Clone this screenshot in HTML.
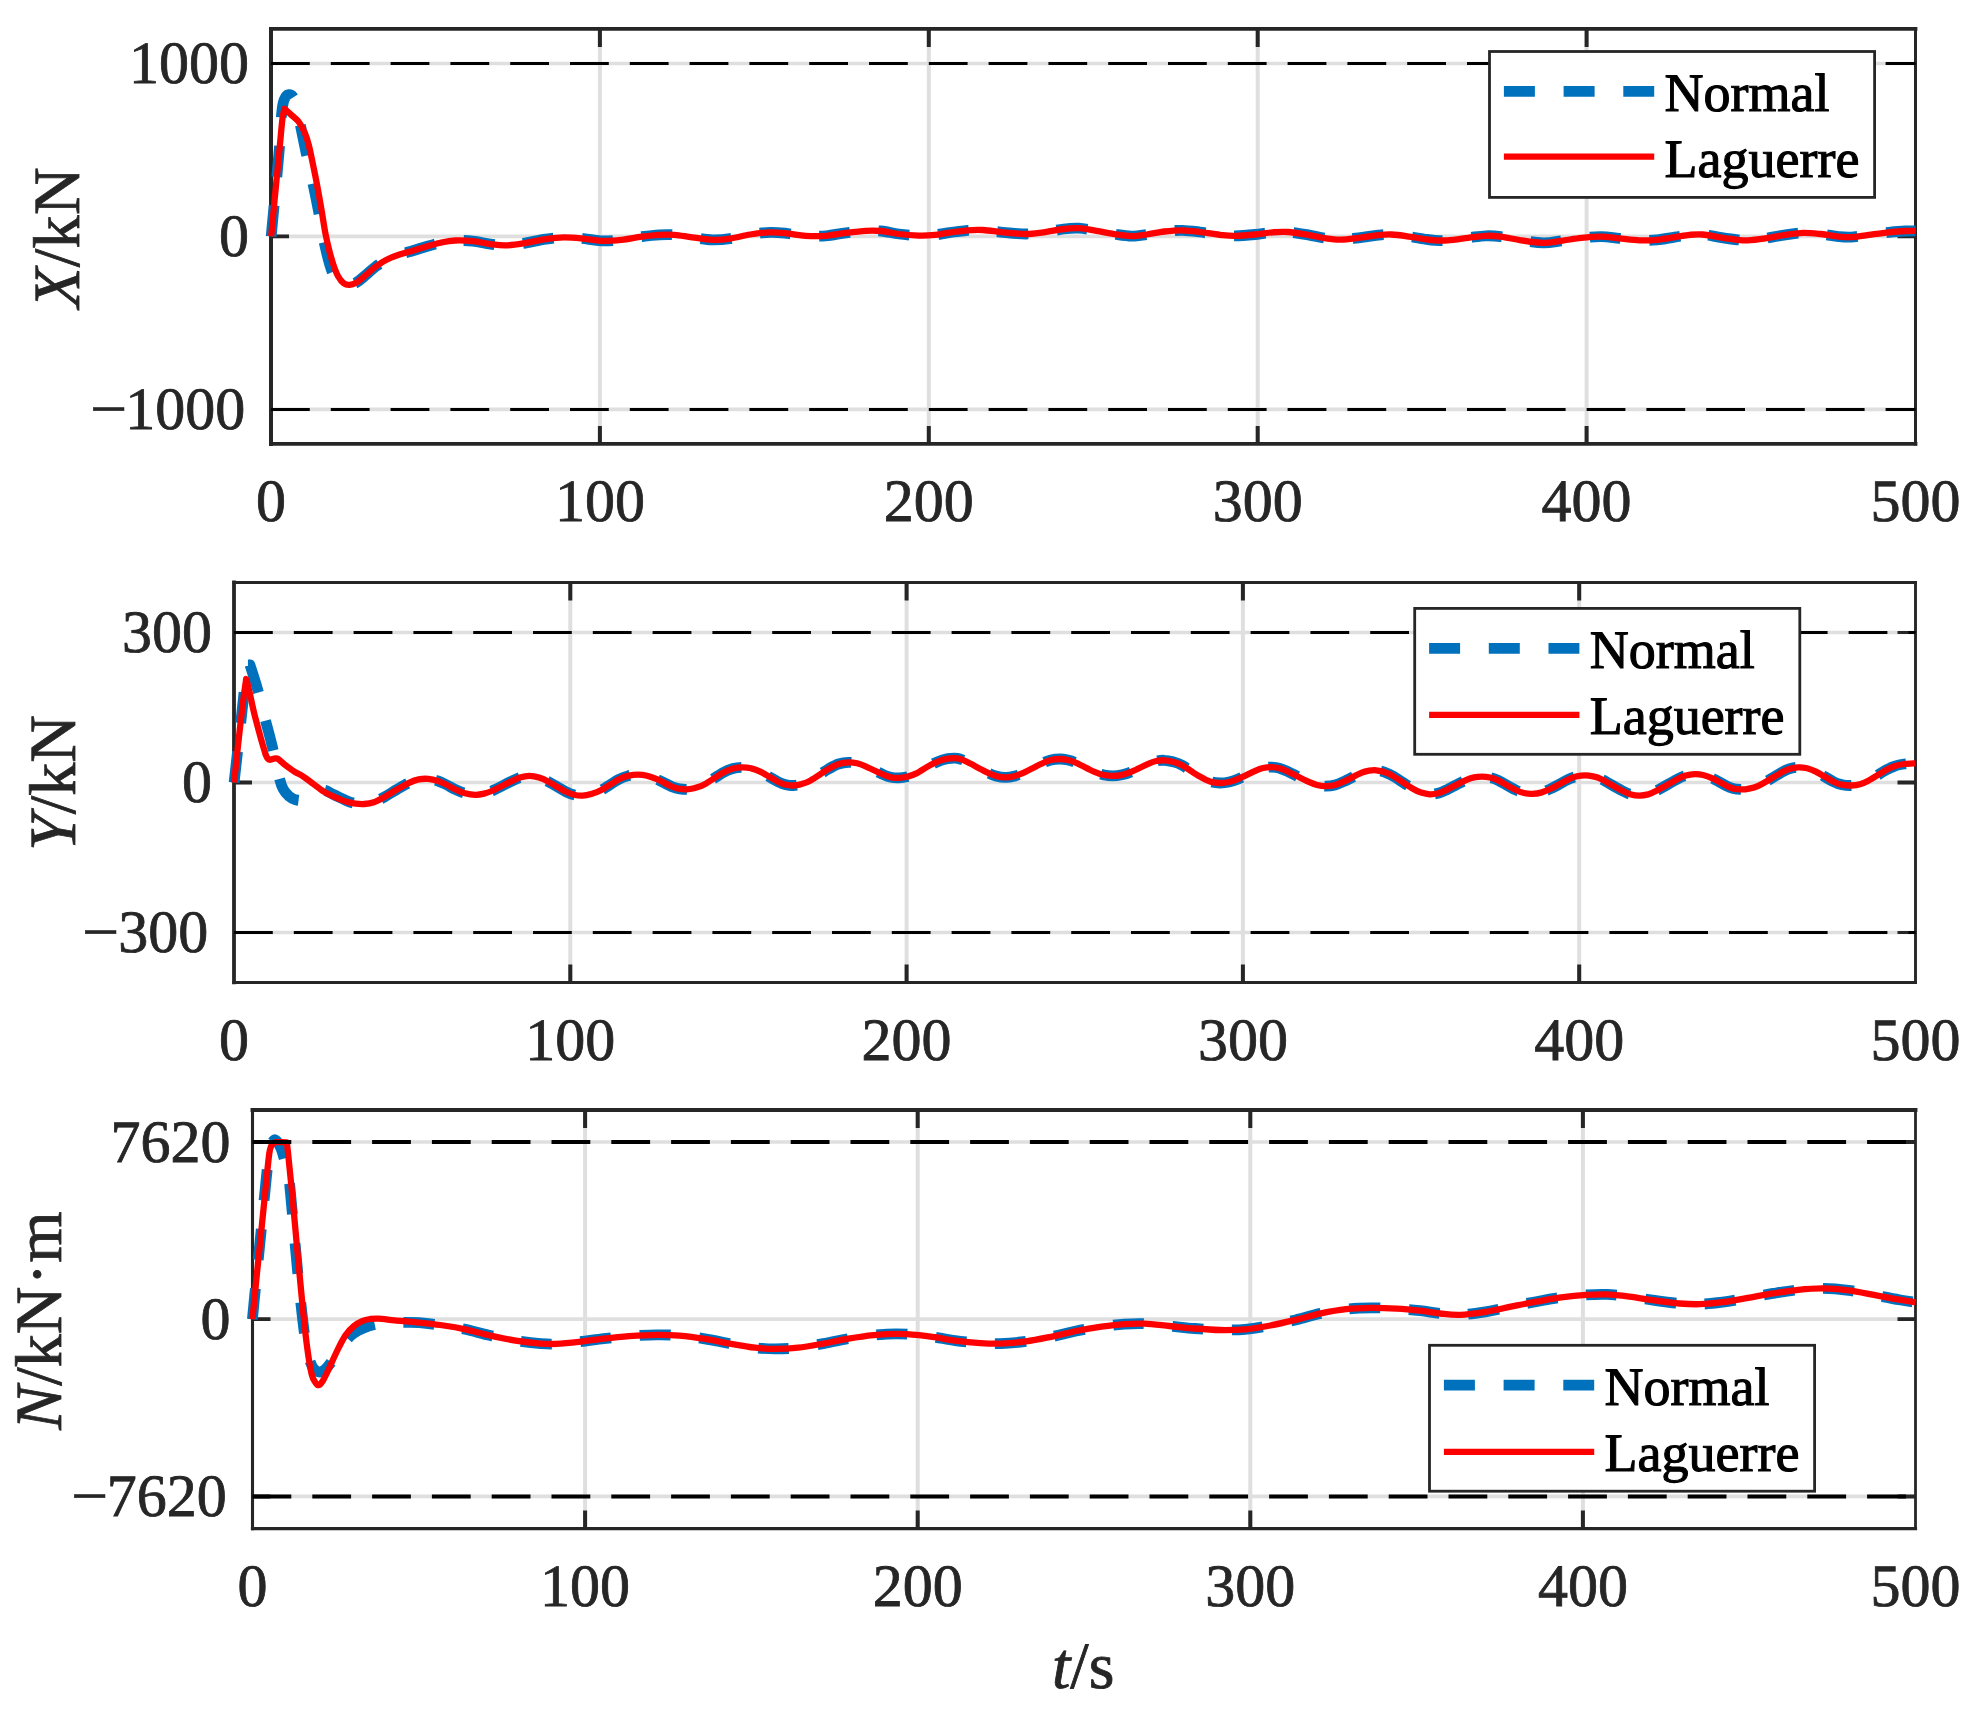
<!DOCTYPE html>
<html lang="en">
<head>
<meta charset="utf-8">
<title>Control forces: Normal vs Laguerre</title>
<style>
html,body{margin:0;padding:0;background:#fff;}
body{width:1983px;height:1720px;overflow:hidden;}
svg{display:block;}
svg text{font-family:"Liberation Serif", "Times New Roman", serif;fill:#262626;stroke:#262626;stroke-width:0.8px;text-rendering:geometricPrecision;}
svg text.lg{fill:#000;stroke:#000;stroke-width:1.1px;}
</style>
</head>
<body>
<svg width="1983" height="1720" viewBox="0 0 1983 1720">
<rect width="1983" height="1720" fill="#fff"/>
<g id="axes1">
<line x1="599.9" y1="28.9" x2="599.9" y2="443.9" stroke="#dfdfdf" stroke-width="4"/>
<line x1="928.8" y1="28.9" x2="928.8" y2="443.9" stroke="#dfdfdf" stroke-width="4"/>
<line x1="1257.7" y1="28.9" x2="1257.7" y2="443.9" stroke="#dfdfdf" stroke-width="4"/>
<line x1="1586.6" y1="28.9" x2="1586.6" y2="443.9" stroke="#dfdfdf" stroke-width="4"/>
<line x1="271" y1="63.5" x2="1915.5" y2="63.5" stroke="#dfdfdf" stroke-width="3.7"/>
<line x1="271" y1="236.4" x2="1915.5" y2="236.4" stroke="#dfdfdf" stroke-width="3.7"/>
<line x1="271" y1="409.4" x2="1915.5" y2="409.4" stroke="#dfdfdf" stroke-width="3.7"/>
<path d="M271 28.9V443.9" stroke="#262626" stroke-width="4" stroke-linecap="square" fill="none"/>
<path d="M1915.5 28.9V443.9" stroke="#262626" stroke-width="3" stroke-linecap="square" fill="none"/>
<path d="M271 28.9H1915.5" stroke="#262626" stroke-width="3.8" stroke-linecap="square" fill="none"/>
<path d="M271 443.9H1915.5" stroke="#262626" stroke-width="3.8" stroke-linecap="square" fill="none"/>
<path d="M599.9 28.9v18 M599.9 443.9v-18" stroke="#262626" stroke-width="4" fill="none"/>
<path d="M928.8 28.9v18 M928.8 443.9v-18" stroke="#262626" stroke-width="4" fill="none"/>
<path d="M1257.7 28.9v18 M1257.7 443.9v-18" stroke="#262626" stroke-width="4" fill="none"/>
<path d="M1586.6 28.9v18 M1586.6 443.9v-18" stroke="#262626" stroke-width="4" fill="none"/>
<path d="M271 63.5h18 M1915.5 63.5h-18" stroke="#262626" stroke-width="3" fill="none"/>
<path d="M271 236.4h18 M1915.5 236.4h-18" stroke="#262626" stroke-width="3.8" fill="none"/>
<path d="M271 409.4h18 M1915.5 409.4h-18" stroke="#262626" stroke-width="3" fill="none"/>
<path d="M271.2 236.4C271.9 229.1 273.9 207.1 275.3 192.6C276.7 178.1 278.3 161.7 279.3 149.3C280.3 136.9 280.7 125.7 281.3 118C281.9 110.3 282.4 106.6 283.2 103C283.9 99.4 284.9 98 285.8 96.6C286.7 95.2 287.7 94.7 288.8 94.6C289.9 94.5 291.1 94.4 292.3 96C293.5 97.6 294.6 99.1 296 104C297.4 108.9 298.7 117 300.5 125.6C302.3 134.2 304.6 145.6 306.7 155.6C308.8 165.6 311.3 175.9 313.4 185.6C315.4 195.2 317.1 203.7 319 213.5C320.9 223.3 322.4 234.4 324.6 244.2C326.8 254 329.7 265.8 332.3 272.1C334.9 278.4 337.5 279.7 340 281.8C342.5 283.9 344.8 284.9 347.5 285C350.2 285.1 353.2 284.3 356.3 282.6C359.4 280.9 362.8 277.6 366 274.9C369.2 272.2 372.5 268.9 375.8 266.5C379.1 264.1 381.7 262.2 385.6 260.2C389.6 258.2 394.9 256.2 399.5 254.6C404.1 253 408.9 251.9 413.5 250.5C418.1 249.1 422.8 247.6 427.4 246.3C432 245 436.8 243.5 441.4 242.5C446 241.5 449.8 240.7 455 240.5C460.2 240.3 466.9 240.5 472.8 241.1C478.7 241.7 484.9 243.4 490.4 244.1C495.9 244.8 500.1 245.5 505.6 245.4C511.1 245.3 516.5 244.5 523.2 243.4C529.9 242.3 539.2 240.1 545.9 239.1C552.6 238.1 557.7 237.4 563.6 237.3C569.5 237.2 574.9 237.7 581.2 238.3C587.5 238.9 594.7 240.6 601.4 240.8C608.1 241.1 614.8 240.5 621.5 239.8C628.2 239.1 635.4 237.4 641.7 236.6C648 235.8 653.9 235.1 659.4 234.8C664.9 234.5 669 234.4 674.5 234.8C680 235.2 685.8 236.5 692.1 237.3C698.4 238.1 706 239.6 712.3 239.8C718.6 240 723.7 239.5 730 238.6C736.3 237.7 743.4 235.6 750.1 234.5C756.8 233.4 764 232.5 770.3 232.3C776.6 232.1 782.1 232.9 788 233.5C793.9 234.1 799.3 235.4 805.6 235.8C811.9 236.2 819.1 236.3 825.8 235.8C832.5 235.3 839.3 233.6 846 232.8C852.7 232 860.2 231.1 866.1 230.8C872 230.5 875.7 230.5 881.2 231C886.7 231.5 892.6 233.2 898.9 234C905.2 234.8 913 235.4 919 235.6C925 235.8 930.2 235.4 935 234.9C939.8 234.4 942.1 233.6 947.6 232.8C953.1 232 961.9 230.8 967.8 230.3C973.7 229.8 977.1 229.7 983 230C988.9 230.3 995.9 231.6 1003 232.3C1010.1 233 1019 234 1025.8 234C1032.5 234 1037.2 233.1 1043.5 232.3C1049.8 231.5 1057.7 229.7 1063.6 229C1069.5 228.3 1073.3 227.9 1078.8 228.2C1084.3 228.5 1090.1 229.8 1096.4 230.8C1102.7 231.9 1110.7 233.6 1116.6 234.5C1122.5 235.4 1126.7 236.1 1131.7 236.1C1136.7 236.1 1141.3 235.3 1146.8 234.5C1152.3 233.7 1158.6 232.2 1164.5 231.5C1170.4 230.8 1176.2 230.2 1182.1 230.3C1188 230.4 1193.5 231.2 1199.8 232C1206.1 232.8 1214.1 234.2 1220 234.8C1225.9 235.4 1229.1 235.9 1235 235.8C1240.9 235.8 1249 235.1 1255.3 234.5C1261.6 233.9 1267.5 232.7 1272.9 232.3C1278.4 231.9 1282.1 231.6 1288 232C1293.9 232.4 1301.9 233.8 1308.2 234.8C1314.5 235.9 1320.4 237.5 1325.9 238.3C1331.4 239.1 1335.5 239.7 1341 239.6C1346.5 239.5 1352.7 238.5 1358.6 237.8C1364.5 237.1 1370.8 235.9 1376.3 235.3C1381.8 234.8 1385.9 234.3 1391.4 234.5C1396.9 234.7 1403.7 235.8 1409.1 236.6C1414.5 237.3 1419.7 238.4 1424 239C1428.3 239.6 1431 240.1 1435 240.3C1439 240.5 1442.2 240.7 1447.7 240.3C1453.2 239.9 1461.7 238.6 1468 237.8C1474.3 237.1 1480.1 236 1485.6 235.8C1491 235.6 1494.8 235.8 1500.7 236.6C1506.6 237.3 1513.8 239.2 1520.9 240.3C1528 241.4 1536.8 242.8 1543.5 242.9C1550.2 243 1554.9 241.7 1561.2 240.8C1567.5 240 1574.7 238.5 1581.4 237.8C1588.1 237.1 1595.2 236.5 1601.5 236.6C1607.8 236.7 1612.9 237.7 1619.2 238.3C1625.5 238.9 1633.1 240.1 1639.4 240.3C1645.7 240.6 1651.1 240.3 1657 239.8C1662.9 239.3 1669.2 237.9 1674.7 237.1C1680.2 236.3 1685.2 235.2 1689.8 234.8C1694.4 234.4 1697.4 234.1 1702.4 234.5C1707.4 234.9 1714.1 236.4 1720 237.3C1725.9 238.2 1733.1 239.3 1737.7 239.8C1742.3 240.3 1743.2 240.6 1747.8 240.3C1752.4 240.1 1759.1 239.2 1765.4 238.3C1771.7 237.4 1779.3 235.7 1785.6 234.8C1791.9 233.9 1797.4 232.9 1803.3 232.8C1809.2 232.7 1815 233.4 1820.9 234C1826.8 234.6 1833.5 236.1 1838.6 236.6C1843.6 237.1 1846.2 237.4 1851.2 237.1C1856.2 236.8 1862.5 235.6 1868.8 234.8C1875.1 234 1883 232.9 1889 232.3C1895 231.7 1900.6 231.2 1905 231C1909.4 230.8 1913.8 230.8 1915.5 230.8" fill="none" stroke="#0072bd" stroke-width="10.8" stroke-dasharray="31 28.7" stroke-linejoin="round"/>
<path d="M271.2 236.4C271.9 229.1 273.9 207.1 275.3 192.6C276.7 178.1 278.3 161.4 279.5 149.3C280.7 137.2 281.5 126.8 282.3 120C283.1 113.2 284 110.7 284.4 108.8C285.4 109.7 288.4 112.3 290.7 114.4C293 116.5 296.1 118.4 298.4 121.4C300.7 124.4 303 128.7 304.7 132.6C306.4 136.5 307.4 139.8 308.8 145.1C310.2 150.4 311.6 157.9 313 164.7C314.4 171.4 315.8 178.2 317.2 185.6C318.6 193 320 201.2 321.4 209.3C322.8 217.4 324.2 227.2 325.6 234.4C327 241.6 328.4 247.2 329.8 252.6C331.2 257.9 332.6 262.6 334 266.5C335.4 270.4 336.5 273.5 338.1 276.3C339.7 279.1 341.8 281.9 343.7 283.3C345.6 284.7 347.2 285 349.3 284.9C351.4 284.8 353.5 284.3 356.3 282.6C359.1 280.9 362.8 277.6 366 274.9C369.2 272.2 372.5 268.9 375.8 266.5C379.1 264.1 381.7 262.2 385.6 260.2C389.6 258.2 394.9 256.2 399.5 254.6C404.1 253 408.9 251.9 413.5 250.5C418.1 249.1 422.8 247.6 427.4 246.3C432 245 436.8 243.5 441.4 242.5C446 241.5 449.8 240.7 455 240.5C460.2 240.3 466.9 240.5 472.8 241.1C478.7 241.7 484.9 243.4 490.4 244.1C495.9 244.8 500.1 245.5 505.6 245.4C511.1 245.3 516.5 244.5 523.2 243.4C529.9 242.3 539.2 240.1 545.9 239.1C552.6 238.1 557.7 237.4 563.6 237.3C569.5 237.2 574.9 237.7 581.2 238.3C587.5 238.9 594.7 240.6 601.4 240.8C608.1 241.1 614.8 240.5 621.5 239.8C628.2 239.1 635.4 237.4 641.7 236.6C648 235.8 653.9 235.1 659.4 234.8C664.9 234.5 669 234.4 674.5 234.8C680 235.2 685.8 236.5 692.1 237.3C698.4 238.1 706 239.6 712.3 239.8C718.6 240 723.7 239.5 730 238.6C736.3 237.7 743.4 235.6 750.1 234.5C756.8 233.4 764 232.5 770.3 232.3C776.6 232.1 782.1 232.9 788 233.5C793.9 234.1 799.3 235.4 805.6 235.8C811.9 236.2 819.1 236.3 825.8 235.8C832.5 235.3 839.3 233.6 846 232.8C852.7 232 860.2 231.1 866.1 230.8C872 230.5 875.7 230.5 881.2 231C886.7 231.5 892.6 233.2 898.9 234C905.2 234.8 913 235.4 919 235.6C925 235.8 930.2 235.4 935 234.9C939.8 234.4 942.1 233.6 947.6 232.8C953.1 232 961.9 230.8 967.8 230.3C973.7 229.8 977.1 229.7 983 230C988.9 230.3 995.9 231.6 1003 232.3C1010.1 233 1019 234 1025.8 234C1032.5 234 1037.2 233.1 1043.5 232.3C1049.8 231.5 1057.7 229.7 1063.6 229C1069.5 228.3 1073.3 227.9 1078.8 228.2C1084.3 228.5 1090.1 229.8 1096.4 230.8C1102.7 231.9 1110.7 233.6 1116.6 234.5C1122.5 235.4 1126.7 236.1 1131.7 236.1C1136.7 236.1 1141.3 235.3 1146.8 234.5C1152.3 233.7 1158.6 232.2 1164.5 231.5C1170.4 230.8 1176.2 230.2 1182.1 230.3C1188 230.4 1193.5 231.2 1199.8 232C1206.1 232.8 1214.1 234.2 1220 234.8C1225.9 235.4 1229.1 235.9 1235 235.8C1240.9 235.8 1249 235.1 1255.3 234.5C1261.6 233.9 1267.5 232.7 1272.9 232.3C1278.4 231.9 1282.1 231.6 1288 232C1293.9 232.4 1301.9 233.8 1308.2 234.8C1314.5 235.9 1320.4 237.5 1325.9 238.3C1331.4 239.1 1335.5 239.7 1341 239.6C1346.5 239.5 1352.7 238.5 1358.6 237.8C1364.5 237.1 1370.8 235.9 1376.3 235.3C1381.8 234.8 1385.9 234.3 1391.4 234.5C1396.9 234.7 1403.7 235.8 1409.1 236.6C1414.5 237.3 1419.7 238.4 1424 239C1428.3 239.6 1431 240.1 1435 240.3C1439 240.5 1442.2 240.7 1447.7 240.3C1453.2 239.9 1461.7 238.6 1468 237.8C1474.3 237.1 1480.1 236 1485.6 235.8C1491 235.6 1494.8 235.8 1500.7 236.6C1506.6 237.3 1513.8 239.2 1520.9 240.3C1528 241.4 1536.8 242.8 1543.5 242.9C1550.2 243 1554.9 241.7 1561.2 240.8C1567.5 240 1574.7 238.5 1581.4 237.8C1588.1 237.1 1595.2 236.5 1601.5 236.6C1607.8 236.7 1612.9 237.7 1619.2 238.3C1625.5 238.9 1633.1 240.1 1639.4 240.3C1645.7 240.6 1651.1 240.3 1657 239.8C1662.9 239.3 1669.2 237.9 1674.7 237.1C1680.2 236.3 1685.2 235.2 1689.8 234.8C1694.4 234.4 1697.4 234.1 1702.4 234.5C1707.4 234.9 1714.1 236.4 1720 237.3C1725.9 238.2 1733.1 239.3 1737.7 239.8C1742.3 240.3 1743.2 240.6 1747.8 240.3C1752.4 240.1 1759.1 239.2 1765.4 238.3C1771.7 237.4 1779.3 235.7 1785.6 234.8C1791.9 233.9 1797.4 232.9 1803.3 232.8C1809.2 232.7 1815 233.4 1820.9 234C1826.8 234.6 1833.5 236.1 1838.6 236.6C1843.6 237.1 1846.2 237.4 1851.2 237.1C1856.2 236.8 1862.5 235.6 1868.8 234.8C1875.1 234 1883 232.9 1889 232.3C1895 231.7 1900.6 231.2 1905 231C1909.4 230.8 1913.8 230.8 1915.5 230.8" fill="none" stroke="#ff0000" stroke-width="6.3" stroke-linejoin="round"/>
<line x1="271" y1="63.5" x2="1915.5" y2="63.5" stroke="#000" stroke-width="3" stroke-dasharray="38.8 21"/>
<line x1="271" y1="409.4" x2="1915.5" y2="409.4" stroke="#000" stroke-width="3" stroke-dasharray="38.8 21"/>
<text x="271" y="521.2" text-anchor="middle" font-size="60">0</text>
<text x="599.9" y="521.2" text-anchor="middle" font-size="60">100</text>
<text x="928.8" y="521.2" text-anchor="middle" font-size="60">200</text>
<text x="1257.7" y="521.2" text-anchor="middle" font-size="60">300</text>
<text x="1586.6" y="521.2" text-anchor="middle" font-size="60">400</text>
<text x="1915.5" y="521.2" text-anchor="middle" font-size="60">500</text>
<text x="248.9" y="83.4" text-anchor="end" font-size="60">1000</text>
<text x="248.9" y="256.3" text-anchor="end" font-size="60">0</text>
<text x="245.2" y="429.3" text-anchor="end" font-size="60"><tspan x="90" y="431.1" text-anchor="start" font-size="66" style="stroke-width:0.5px">−</tspan><tspan x="245.2" y="429.3">1000</tspan></text>
<text transform="translate(79 237.4) rotate(-90)" text-anchor="middle" font-size="66" letter-spacing="0.5"><tspan font-style="italic">X</tspan>/kN</text>
<rect x="1489.5" y="51.5" width="385.1" height="145.9" fill="#fff" stroke="#262626" stroke-width="2.8"/>
<line x1="1503.9" y1="91.4" x2="1654.2" y2="91.4" stroke="#0072bd" stroke-width="10.8" stroke-dasharray="31 28.7"/>
<line x1="1503.9" y1="156.7" x2="1654.2" y2="156.7" stroke="#ff0000" stroke-width="6.2"/>
<text x="1664.5" y="111.4" font-size="54" class="lg">Normal</text>
<text x="1664.5" y="177.3" font-size="54" class="lg">Laguerre</text>
</g>
<g id="axes2">
<line x1="570.3" y1="582.4" x2="570.3" y2="982.4" stroke="#dfdfdf" stroke-width="4"/>
<line x1="906.6" y1="582.4" x2="906.6" y2="982.4" stroke="#dfdfdf" stroke-width="4"/>
<line x1="1242.9" y1="582.4" x2="1242.9" y2="982.4" stroke="#dfdfdf" stroke-width="4"/>
<line x1="1579.2" y1="582.4" x2="1579.2" y2="982.4" stroke="#dfdfdf" stroke-width="4"/>
<line x1="234" y1="632.5" x2="1915.5" y2="632.5" stroke="#dfdfdf" stroke-width="3.7"/>
<line x1="234" y1="782.5" x2="1915.5" y2="782.5" stroke="#dfdfdf" stroke-width="3.7"/>
<line x1="234" y1="932.5" x2="1915.5" y2="932.5" stroke="#dfdfdf" stroke-width="3.7"/>
<path d="M234 582.4V982.4" stroke="#262626" stroke-width="3.8" stroke-linecap="square" fill="none"/>
<path d="M1915.5 582.4V982.4" stroke="#262626" stroke-width="2.9" stroke-linecap="square" fill="none"/>
<path d="M234 582.4H1915.5" stroke="#262626" stroke-width="3" stroke-linecap="square" fill="none"/>
<path d="M234 982.4H1915.5" stroke="#262626" stroke-width="3" stroke-linecap="square" fill="none"/>
<path d="M570.3 582.4v18 M570.3 982.4v-18" stroke="#262626" stroke-width="4" fill="none"/>
<path d="M906.6 582.4v18 M906.6 982.4v-18" stroke="#262626" stroke-width="4" fill="none"/>
<path d="M1242.9 582.4v18 M1242.9 982.4v-18" stroke="#262626" stroke-width="4" fill="none"/>
<path d="M1579.2 582.4v18 M1579.2 982.4v-18" stroke="#262626" stroke-width="4" fill="none"/>
<path d="M234 632.5h18 M1915.5 632.5h-18" stroke="#262626" stroke-width="3" fill="none"/>
<path d="M234 782.5h18 M1915.5 782.5h-18" stroke="#262626" stroke-width="3.8" fill="none"/>
<path d="M234 932.5h18 M1915.5 932.5h-18" stroke="#262626" stroke-width="3" fill="none"/>
<path d="M234.1 782.5C234.8 775.9 237 756.6 238.5 742.9C240 729.2 241.8 713.5 243.2 700.5C244.6 687.5 246.2 670.9 246.8 665C247.3 665 249.5 665 250 665C251.2 668.9 254.8 679.5 257.3 688.4C259.8 697.2 262.4 708.3 264.9 718.1C267.4 727.9 270.1 737.4 272.4 747.1C274.7 756.8 277.1 769.2 278.9 776.2C280.7 783.2 281.4 785.5 283.1 788.9C284.8 792.2 287.1 794.5 289.1 796.3C291.1 798.1 292.9 799 295 799.6C297.1 800.2 299.2 801 302 800.2C304.8 799.4 308.5 796.7 312 795C315.5 793.3 319.3 790 323 790C326.7 790 330.2 793.1 334 794.8C337.8 796.5 342.4 798.9 346 800.4C349.6 801.9 352.7 803 355.7 803.6C358.7 804.2 361.2 804.2 364.2 804C367.2 803.8 370.5 803.4 373.9 802.2C377.3 801 381 798.8 384.8 796.7C388.6 794.6 392.9 791.8 396.9 789.5C400.9 787.2 405.4 784.5 409 782.8C412.6 781.1 415.5 780 418.7 779.4C421.9 778.8 425.1 778.6 428.3 778.9C431.5 779.2 435.1 780.1 438 781C440.9 781.9 443.1 783.1 446 784.5C448.9 785.9 451.9 787.8 455.1 789.3C458.3 790.8 461.6 792.3 465 793.2C468.4 794.1 472.1 794.7 475.3 794.8C478.5 794.9 481.1 794.3 484 793.6C486.9 792.9 488.6 792.5 493 790.5C497.4 788.5 506.1 783.9 510.6 781.7C515.1 779.6 516.9 778.6 520 777.6C523.1 776.6 526.3 775.9 529.5 775.9C532.7 775.9 535.9 776.6 539 777.6C542.1 778.6 543.9 779.3 548.4 781.7C552.9 784.1 561.7 789.6 566.1 791.8C570.5 794 572.3 794.4 575 795C577.7 795.6 579.8 795.8 582.5 795.6C585.2 795.4 587.9 794.9 591 794C594.1 793.1 596.7 792.5 601.4 790C606.1 787.5 614.4 781.6 619 779.2C623.6 776.8 625.9 776.4 629 775.6C632.1 774.8 634.9 774.6 637.9 774.6C640.9 774.6 643.9 775 647 775.8C650.1 776.6 652.6 777.4 656.8 779.2C661 781 668.1 785.1 672 786.7C675.9 788.3 677.5 788.5 680 788.9C682.5 789.3 684.6 789.4 687.1 789.3C689.6 789.1 692 788.9 695 788C698 787.1 700.2 786.7 704.8 784.2C709.4 781.7 717.7 775.5 722.4 772.9C727.1 770.3 729.6 769.4 733 768.5C736.4 767.6 739.6 767.3 742.6 767.3C745.6 767.3 748.1 767.6 751 768.3C753.9 769 755.7 769.4 760.2 771.6C764.7 773.8 773.6 779.5 777.9 781.7C782.2 783.9 783.5 784.2 786 784.8C788.5 785.4 790.5 785.6 793 785.5C795.5 785.4 798.1 785.1 801 784.2C803.9 783.4 806.1 782.9 810.6 780.4C815.1 777.9 823.6 771.8 828.3 769.1C832.9 766.4 835.1 765.1 838.5 764C841.9 762.9 845.4 762.4 848.5 762.3C851.6 762.2 854.1 762.6 857 763.3C859.9 764 861.6 764.7 866.1 766.6C870.6 768.5 879.6 773.1 883.8 774.9C887.9 776.7 888.5 776.8 891 777.3C893.5 777.8 896.2 778 898.9 777.9C901.6 777.8 904.1 777.5 907 776.8C909.9 776 912.7 775.3 916.5 773.4C920.3 771.5 925.6 767.6 930 765.3C934.4 763 938.6 761 942.6 759.8C946.6 758.6 950.9 758.3 954 758.2C957.1 758.1 958.7 758.6 961 759.3C963.3 760 963.7 760.2 967.8 762.3C971.9 764.3 980.8 769.3 985.5 771.6C990.2 773.9 992.6 775 996 776C999.4 777 1002.6 777.4 1005.6 777.4C1008.6 777.4 1011 777 1014 776.2C1017 775.5 1018.8 774.9 1023.3 772.9C1027.8 770.9 1036.5 766.1 1040.9 764C1045.4 761.9 1046.8 761 1050 760.2C1053.2 759.4 1056.9 759 1059.9 759C1062.9 759 1065.3 759.4 1068 760C1070.7 760.6 1071.9 760.9 1076.2 762.8C1080.5 764.7 1089.3 769.6 1093.9 771.6C1098.5 773.6 1100.8 774.3 1104 775C1107.2 775.7 1109.8 775.9 1112.8 775.9C1115.8 775.9 1118.8 775.5 1122 774.8C1125.2 774.1 1127.1 773.5 1131.7 771.6C1136.3 769.7 1145.2 765.1 1149.4 763.3C1153.6 761.5 1154.5 761.4 1157 760.9C1159.5 760.4 1161.8 760.1 1164.5 760.3C1167.2 760.4 1170.1 761 1173 761.8C1175.9 762.6 1177.6 762.8 1182.1 765.3C1186.6 767.8 1195.1 773.9 1199.8 776.6C1204.5 779.3 1206.6 780.4 1210 781.5C1213.4 782.6 1216.8 782.9 1220 783C1223.2 783.1 1226.1 782.6 1229 782C1231.9 781.4 1233.2 781.1 1237.6 779.2C1242 777.3 1251.1 772.7 1255.3 770.8C1259.5 768.9 1260.3 768.6 1263 768C1265.7 767.4 1268.9 767 1271.7 767.1C1274.5 767.2 1277.3 767.6 1280 768.4C1282.7 769.1 1283.3 769.4 1288 771.6C1292.7 773.8 1303.4 779.5 1308.2 781.7C1313 783.9 1314 784.2 1317 785C1320 785.8 1322.9 786.2 1325.9 786.2C1328.9 786.2 1332.1 785.8 1335 785C1337.9 784.2 1339.1 783.7 1343.5 781.7C1347.9 779.7 1357 774.7 1361.2 772.9C1365.5 771.1 1366.5 771.1 1369 770.7C1371.5 770.3 1373.6 770 1376.3 770.3C1379 770.6 1382 771.2 1385 772.3C1388 773.3 1389.6 774 1394 776.6C1398.4 779.2 1407.1 785.3 1411.6 788C1416.1 790.7 1417.9 791.6 1421 792.6C1424.1 793.6 1427 794.2 1430 794.3C1433 794.4 1436 793.8 1439 793C1442 792.2 1443.3 791.4 1447.7 789.3C1452.1 787.2 1461 782.4 1465.4 780.4C1469.8 778.4 1471.3 778 1474 777.4C1476.7 776.8 1479.1 776.6 1481.8 776.6C1484.5 776.6 1487.3 776.9 1490 777.5C1492.7 778.1 1493.9 778.3 1498.2 780.4C1502.5 782.5 1511.5 787.9 1515.8 790C1520.1 792.1 1521.3 792.4 1524 793C1526.7 793.6 1529.4 793.9 1532.2 793.8C1535 793.7 1537.8 793.5 1541 792.6C1544.2 791.7 1546.5 790.7 1551.1 788.5C1555.7 786.3 1564.5 781.2 1568.8 779.2C1573.1 777.2 1574.3 776.9 1577 776.3C1579.7 775.7 1582.5 775.4 1585.2 775.4C1587.9 775.4 1590.3 775.7 1593 776.3C1595.7 776.9 1596.7 776.8 1601.5 779.2C1606.3 781.6 1616.8 788 1621.7 790.5C1626.6 793 1628 793.6 1631 794.5C1634 795.4 1636.6 795.6 1639.4 795.6C1642.2 795.6 1645.1 795.2 1648 794.4C1650.9 793.5 1652.1 793 1657 790.5C1661.9 788 1672.4 781.7 1677.2 779.2C1682 776.7 1683.1 776.4 1686 775.5C1688.9 774.6 1692 774.2 1694.8 774.1C1697.6 774 1700 774.3 1703 775C1706 775.7 1708 776.3 1712.5 778.4C1717 780.5 1725.8 785.7 1730.1 787.5C1734.3 789.3 1735.5 788.9 1738 789.2C1740.5 789.5 1742.6 789.6 1745.3 789.3C1748 789 1751.1 788.6 1754 787.6C1756.9 786.6 1758.5 786 1762.9 783.5C1767.3 781 1776.2 775.3 1780.6 772.9C1784.9 770.5 1786.1 769.8 1789 768.9C1791.9 768 1795.2 767.4 1798.2 767.3C1801.2 767.2 1804 767.5 1807 768.2C1810 768.9 1811.5 769.4 1815.9 771.6C1820.3 773.9 1829.2 779.5 1833.5 781.7C1837.8 783.9 1839 784.1 1842 784.7C1845 785.3 1848.2 785.6 1851.2 785.5C1854.2 785.4 1857.1 785.1 1860 784.2C1862.9 783.4 1864.4 782.8 1868.8 780.4C1873.2 778 1882.1 772.2 1886.5 769.8C1890.9 767.4 1892.1 767 1895 766C1897.9 765 1900.7 764.5 1904.1 764C1907.5 763.5 1913.6 763.4 1915.5 763.3" fill="none" stroke="#0072bd" stroke-width="10.8" stroke-dasharray="31 28.7" stroke-linejoin="round"/>
<path d="M234.1 782.5C234.8 775.9 236.8 756.6 238.3 742.9C239.8 729.2 241.9 711.1 243.2 700.5C244.5 689.9 245.7 682.6 246.2 679C246.7 681 247.9 685.2 249.2 690.8C250.5 696.4 252.2 705.1 254 712.6C255.8 720.1 258.2 728.6 260.1 735.6C262 742.6 264.7 751.4 265.6 754.5C265.9 755.1 266.8 757.4 267.5 758.3C268.2 759.2 268.2 759.8 269.8 759.8C271.4 759.8 274.4 757.7 277 758.6C279.6 759.5 282.7 763.2 285.5 765.3C288.3 767.4 291 769.4 294 771.3C297 773.2 300.5 774.7 303.7 776.8C306.9 778.9 310 781.5 313.4 784C316.8 786.5 320.8 789.8 324.2 791.9C327.6 794 330.3 795.1 333.9 796.7C337.5 798.3 342.4 800.5 346 801.6C349.6 802.8 352.7 803.2 355.7 803.6C358.7 804 361.2 804.2 364.2 804C367.2 803.8 370.5 803.4 373.9 802.2C377.3 801 381 798.8 384.8 796.7C388.6 794.6 392.9 791.8 396.9 789.5C400.9 787.2 405.4 784.5 409 782.8C412.6 781.1 415.5 780 418.7 779.4C421.9 778.8 425.1 778.6 428.3 778.9C431.5 779.2 435.1 780.1 438 781C440.9 781.9 443.1 783.1 446 784.5C448.9 785.9 451.9 787.8 455.1 789.3C458.3 790.8 461.6 792.3 465 793.2C468.4 794.1 472.1 794.7 475.3 794.8C478.5 794.9 481.1 794.3 484 793.6C486.9 792.9 488.6 792.5 493 790.5C497.4 788.5 506.1 783.9 510.6 781.7C515.1 779.6 516.9 778.6 520 777.6C523.1 776.6 526.3 775.9 529.5 775.9C532.7 775.9 535.9 776.6 539 777.6C542.1 778.6 543.9 779.3 548.4 781.7C552.9 784.1 561.7 789.6 566.1 791.8C570.5 794 572.3 794.4 575 795C577.7 795.6 579.8 795.8 582.5 795.6C585.2 795.4 587.9 794.9 591 794C594.1 793.1 596.7 792.5 601.4 790C606.1 787.5 614.4 781.6 619 779.2C623.6 776.8 625.9 776.4 629 775.6C632.1 774.8 634.9 774.6 637.9 774.6C640.9 774.6 643.9 775 647 775.8C650.1 776.6 652.6 777.4 656.8 779.2C661 781 668.1 785.1 672 786.7C675.9 788.3 677.5 788.5 680 788.9C682.5 789.3 684.6 789.4 687.1 789.3C689.6 789.1 692 788.9 695 788C698 787.1 700.2 786.7 704.8 784.2C709.4 781.7 717.7 775.5 722.4 772.9C727.1 770.3 729.6 769.4 733 768.5C736.4 767.6 739.6 767.3 742.6 767.3C745.6 767.3 748.1 767.6 751 768.3C753.9 769 755.7 769.4 760.2 771.6C764.7 773.8 773.6 779.5 777.9 781.7C782.2 783.9 783.5 784.2 786 784.8C788.5 785.4 790.5 785.6 793 785.5C795.5 785.4 798.1 785.1 801 784.2C803.9 783.4 806.1 782.9 810.6 780.4C815.1 777.9 823.6 771.8 828.3 769.1C832.9 766.4 835.1 765.1 838.5 764C841.9 762.9 845.4 762.4 848.5 762.3C851.6 762.2 854.1 762.6 857 763.3C859.9 764 861.6 764.7 866.1 766.6C870.6 768.5 879.6 773.1 883.8 774.9C887.9 776.7 888.5 776.8 891 777.3C893.5 777.8 896.2 778 898.9 777.9C901.6 777.8 904.1 777.5 907 776.8C909.9 776 912.7 775.3 916.5 773.4C920.3 771.5 925.6 767.6 930 765.3C934.4 763 938.6 761 942.6 759.8C946.6 758.6 950.9 758.3 954 758.2C957.1 758.1 958.7 758.6 961 759.3C963.3 760 963.7 760.2 967.8 762.3C971.9 764.3 980.8 769.3 985.5 771.6C990.2 773.9 992.6 775 996 776C999.4 777 1002.6 777.4 1005.6 777.4C1008.6 777.4 1011 777 1014 776.2C1017 775.5 1018.8 774.9 1023.3 772.9C1027.8 770.9 1036.5 766.1 1040.9 764C1045.4 761.9 1046.8 761 1050 760.2C1053.2 759.4 1056.9 759 1059.9 759C1062.9 759 1065.3 759.4 1068 760C1070.7 760.6 1071.9 760.9 1076.2 762.8C1080.5 764.7 1089.3 769.6 1093.9 771.6C1098.5 773.6 1100.8 774.3 1104 775C1107.2 775.7 1109.8 775.9 1112.8 775.9C1115.8 775.9 1118.8 775.5 1122 774.8C1125.2 774.1 1127.1 773.5 1131.7 771.6C1136.3 769.7 1145.2 765.1 1149.4 763.3C1153.6 761.5 1154.5 761.4 1157 760.9C1159.5 760.4 1161.8 760.1 1164.5 760.3C1167.2 760.4 1170.1 761 1173 761.8C1175.9 762.6 1177.6 762.8 1182.1 765.3C1186.6 767.8 1195.1 773.9 1199.8 776.6C1204.5 779.3 1206.6 780.4 1210 781.5C1213.4 782.6 1216.8 782.9 1220 783C1223.2 783.1 1226.1 782.6 1229 782C1231.9 781.4 1233.2 781.1 1237.6 779.2C1242 777.3 1251.1 772.7 1255.3 770.8C1259.5 768.9 1260.3 768.6 1263 768C1265.7 767.4 1268.9 767 1271.7 767.1C1274.5 767.2 1277.3 767.6 1280 768.4C1282.7 769.1 1283.3 769.4 1288 771.6C1292.7 773.8 1303.4 779.5 1308.2 781.7C1313 783.9 1314 784.2 1317 785C1320 785.8 1322.9 786.2 1325.9 786.2C1328.9 786.2 1332.1 785.8 1335 785C1337.9 784.2 1339.1 783.7 1343.5 781.7C1347.9 779.7 1357 774.7 1361.2 772.9C1365.5 771.1 1366.5 771.1 1369 770.7C1371.5 770.3 1373.6 770 1376.3 770.3C1379 770.6 1382 771.2 1385 772.3C1388 773.3 1389.6 774 1394 776.6C1398.4 779.2 1407.1 785.3 1411.6 788C1416.1 790.7 1417.9 791.6 1421 792.6C1424.1 793.6 1427 794.2 1430 794.3C1433 794.4 1436 793.8 1439 793C1442 792.2 1443.3 791.4 1447.7 789.3C1452.1 787.2 1461 782.4 1465.4 780.4C1469.8 778.4 1471.3 778 1474 777.4C1476.7 776.8 1479.1 776.6 1481.8 776.6C1484.5 776.6 1487.3 776.9 1490 777.5C1492.7 778.1 1493.9 778.3 1498.2 780.4C1502.5 782.5 1511.5 787.9 1515.8 790C1520.1 792.1 1521.3 792.4 1524 793C1526.7 793.6 1529.4 793.9 1532.2 793.8C1535 793.7 1537.8 793.5 1541 792.6C1544.2 791.7 1546.5 790.7 1551.1 788.5C1555.7 786.3 1564.5 781.2 1568.8 779.2C1573.1 777.2 1574.3 776.9 1577 776.3C1579.7 775.7 1582.5 775.4 1585.2 775.4C1587.9 775.4 1590.3 775.7 1593 776.3C1595.7 776.9 1596.7 776.8 1601.5 779.2C1606.3 781.6 1616.8 788 1621.7 790.5C1626.6 793 1628 793.6 1631 794.5C1634 795.4 1636.6 795.6 1639.4 795.6C1642.2 795.6 1645.1 795.2 1648 794.4C1650.9 793.5 1652.1 793 1657 790.5C1661.9 788 1672.4 781.7 1677.2 779.2C1682 776.7 1683.1 776.4 1686 775.5C1688.9 774.6 1692 774.2 1694.8 774.1C1697.6 774 1700 774.3 1703 775C1706 775.7 1708 776.3 1712.5 778.4C1717 780.5 1725.8 785.7 1730.1 787.5C1734.3 789.3 1735.5 788.9 1738 789.2C1740.5 789.5 1742.6 789.6 1745.3 789.3C1748 789 1751.1 788.6 1754 787.6C1756.9 786.6 1758.5 786 1762.9 783.5C1767.3 781 1776.2 775.3 1780.6 772.9C1784.9 770.5 1786.1 769.8 1789 768.9C1791.9 768 1795.2 767.4 1798.2 767.3C1801.2 767.2 1804 767.5 1807 768.2C1810 768.9 1811.5 769.4 1815.9 771.6C1820.3 773.9 1829.2 779.5 1833.5 781.7C1837.8 783.9 1839 784.1 1842 784.7C1845 785.3 1848.2 785.6 1851.2 785.5C1854.2 785.4 1857.1 785.1 1860 784.2C1862.9 783.4 1864.4 782.8 1868.8 780.4C1873.2 778 1882.1 772.2 1886.5 769.8C1890.9 767.4 1892.1 767 1895 766C1897.9 765 1900.7 764.5 1904.1 764C1907.5 763.5 1913.6 763.4 1915.5 763.3" fill="none" stroke="#ff0000" stroke-width="6.3" stroke-linejoin="round"/>
<line x1="234" y1="632.5" x2="1915.5" y2="632.5" stroke="#000" stroke-width="3" stroke-dasharray="38.8 21"/>
<line x1="234" y1="932.5" x2="1915.5" y2="932.5" stroke="#000" stroke-width="3" stroke-dasharray="38.8 21"/>
<text x="234" y="1059.7" text-anchor="middle" font-size="60">0</text>
<text x="570.3" y="1059.7" text-anchor="middle" font-size="60">100</text>
<text x="906.6" y="1059.7" text-anchor="middle" font-size="60">200</text>
<text x="1242.9" y="1059.7" text-anchor="middle" font-size="60">300</text>
<text x="1579.2" y="1059.7" text-anchor="middle" font-size="60">400</text>
<text x="1915.5" y="1059.7" text-anchor="middle" font-size="60">500</text>
<text x="211.9" y="652.4" text-anchor="end" font-size="60">300</text>
<text x="211.9" y="802.4" text-anchor="end" font-size="60">0</text>
<text x="208.2" y="952.4" text-anchor="end" font-size="60"><tspan x="82.1" y="954.2" text-anchor="start" font-size="66" style="stroke-width:0.5px">−</tspan><tspan x="208.2" y="952.4">300</tspan></text>
<text transform="translate(75.3 783) rotate(-90)" text-anchor="middle" font-size="66"><tspan font-style="italic">Y</tspan>/kN</text>
<rect x="1414.7" y="608.4" width="385.1" height="145.9" fill="#fff" stroke="#262626" stroke-width="2.8"/>
<line x1="1429.1" y1="648.3" x2="1579.4" y2="648.3" stroke="#0072bd" stroke-width="10.8" stroke-dasharray="31 28.7"/>
<line x1="1429.1" y1="714.9" x2="1579.4" y2="714.9" stroke="#ff0000" stroke-width="6.2"/>
<text x="1589.7" y="668.3" font-size="54" class="lg">Normal</text>
<text x="1589.7" y="734.2" font-size="54" class="lg">Laguerre</text>
</g>
<g id="axes3">
<line x1="585.1" y1="1110" x2="585.1" y2="1528.6" stroke="#dfdfdf" stroke-width="4"/>
<line x1="917.7" y1="1110" x2="917.7" y2="1528.6" stroke="#dfdfdf" stroke-width="4"/>
<line x1="1250.3" y1="1110" x2="1250.3" y2="1528.6" stroke="#dfdfdf" stroke-width="4"/>
<line x1="1582.9" y1="1110" x2="1582.9" y2="1528.6" stroke="#dfdfdf" stroke-width="4"/>
<line x1="252.5" y1="1142" x2="1915.5" y2="1142" stroke="#dfdfdf" stroke-width="3.7"/>
<line x1="252.5" y1="1319.2" x2="1915.5" y2="1319.2" stroke="#dfdfdf" stroke-width="3.7"/>
<line x1="252.5" y1="1496.4" x2="1915.5" y2="1496.4" stroke="#dfdfdf" stroke-width="3.7"/>
<path d="M252.5 1110V1528.6" stroke="#262626" stroke-width="3.1" stroke-linecap="square" fill="none"/>
<path d="M1915.5 1110V1528.6" stroke="#262626" stroke-width="2.8" stroke-linecap="square" fill="none"/>
<path d="M252.5 1110H1915.5" stroke="#262626" stroke-width="3.9" stroke-linecap="square" fill="none"/>
<path d="M252.5 1528.6H1915.5" stroke="#262626" stroke-width="3.2" stroke-linecap="square" fill="none"/>
<path d="M585.1 1110v18 M585.1 1528.6v-18" stroke="#262626" stroke-width="4" fill="none"/>
<path d="M917.7 1110v18 M917.7 1528.6v-18" stroke="#262626" stroke-width="4" fill="none"/>
<path d="M1250.3 1110v18 M1250.3 1528.6v-18" stroke="#262626" stroke-width="4" fill="none"/>
<path d="M1582.9 1110v18 M1582.9 1528.6v-18" stroke="#262626" stroke-width="4" fill="none"/>
<path d="M252.5 1142h18 M1915.5 1142h-18" stroke="#262626" stroke-width="4" fill="none"/>
<path d="M252.5 1319.2h18 M1915.5 1319.2h-18" stroke="#262626" stroke-width="3.8" fill="none"/>
<path d="M252.5 1496.4h18 M1915.5 1496.4h-18" stroke="#262626" stroke-width="4" fill="none"/>
<path d="M252.4 1319.3C253.2 1311.4 255.4 1287.7 257 1272C258.6 1256.3 260.1 1240.7 261.7 1225C263.2 1209.3 265.1 1189.8 266.3 1178C267.5 1166.2 268.2 1159.3 268.9 1154C269.6 1148.7 270 1148 270.6 1146C271.2 1144 271.9 1142.9 272.6 1141.8C273.3 1140.7 274.4 1140 274.8 1139.6C275.3 1140.1 276.8 1141 277.8 1142.5C278.8 1144 279.9 1145.8 281 1148.5C282.1 1151.2 283.7 1156.8 284.2 1158.5" fill="none" stroke="#0072bd" stroke-width="10.8" stroke-dasharray="31 28.7" stroke-linejoin="round"/>
<path d="M289.6 1183.5C289.8 1185.1 289.5 1182.7 290.5 1193.3C291.5 1203.9 293.8 1229.4 295.4 1247C297 1264.6 298.7 1283.6 300.4 1299.1C302.1 1314.6 303.7 1329.4 305.4 1340C307.1 1350.6 308.9 1357.5 310.5 1362.5C312.1 1367.5 313.4 1368.4 315 1370C316.6 1371.6 318.1 1372.1 319.8 1372C321.5 1371.9 323 1371.3 325 1369.5C327 1367.7 329.5 1364.4 332 1361C334.5 1357.6 337.5 1352.6 340 1349C342.5 1345.4 344.7 1342.2 347 1339.5C349.3 1336.8 351.2 1334.9 354 1333C356.8 1331.1 360.2 1329.4 363.7 1328C367.2 1326.6 370.7 1325.4 375.1 1324.5C379.5 1323.6 385 1323.1 390 1322.8C395 1322.5 400.1 1322.4 405 1322.4C409.9 1322.4 412.7 1322.2 419.1 1322.7C425.5 1323.2 435.8 1324.4 443.5 1325.5C451.2 1326.6 457.4 1327.6 465.2 1329.3C473 1331 482 1333.7 490.4 1335.6C498.8 1337.5 507.2 1339.3 515.6 1340.6C524 1341.9 534.2 1343 540.9 1343.6C547.6 1344.1 549.7 1344.2 556 1343.9C562.3 1343.6 570.7 1342.8 578.7 1341.9C586.7 1341 595.5 1339.6 603.9 1338.6C612.3 1337.6 620.3 1336.7 629.1 1336.1C637.9 1335.5 648.4 1334.9 656.8 1334.8C665.2 1334.7 671.5 1334.9 679.5 1335.6C687.5 1336.3 696.4 1337.5 704.8 1338.8C713.2 1340.1 721.6 1342.1 730 1343.6C738.4 1345.1 747.6 1346.8 755.2 1347.7C762.8 1348.6 768.3 1348.9 775.4 1348.9C782.5 1348.9 790 1348.6 798 1347.7C806 1346.8 814.9 1345.1 823.3 1343.6C831.7 1342.1 840.1 1340 848.5 1338.6C856.9 1337.2 865.7 1335.9 873.7 1335.1C881.7 1334.3 888.8 1333.8 896.4 1333.8C904 1333.8 912.7 1334.5 919.1 1335.1C925.5 1335.7 929 1336.3 935 1337.2C941 1338.1 947.6 1339.6 955.2 1340.6C962.8 1341.6 972.8 1342.6 980.4 1343.1C988 1343.6 993 1343.9 1000.6 1343.6C1008.2 1343.3 1017.4 1342.5 1025.8 1341.4C1034.2 1340.3 1042.6 1338.5 1051 1336.8C1059.4 1335.1 1067.8 1332.7 1076.2 1331C1084.6 1329.3 1093.5 1327.8 1101.5 1326.7C1109.5 1325.6 1117.1 1324.7 1124.2 1324.2C1131.3 1323.7 1136.8 1323.4 1144.3 1323.7C1151.8 1324 1161.1 1325.2 1169.5 1326C1177.9 1326.8 1186.4 1327.8 1194.8 1328.5C1203.2 1329.2 1211.6 1329.9 1220 1330C1228.4 1330.1 1236.8 1330 1245.2 1329.3C1253.6 1328.5 1262 1327.1 1270.4 1325.5C1278.8 1323.9 1287.2 1321.9 1295.6 1319.9C1304 1317.9 1312.4 1315.2 1320.8 1313.4C1329.2 1311.6 1337.6 1310 1346 1309.1C1354.4 1308.2 1362.8 1307.9 1371.2 1307.8C1379.6 1307.7 1388.4 1308.1 1396.5 1308.6C1404.6 1309.1 1412.7 1309.9 1420 1310.7C1427.3 1311.5 1433.5 1312.8 1440.2 1313.5C1446.9 1314.2 1452.7 1315.1 1460.3 1314.8C1467.9 1314.5 1477.2 1313.1 1485.6 1311.8C1494 1310.5 1502.4 1308.4 1510.8 1306.7C1519.2 1305 1527.6 1303.2 1536 1301.7C1544.4 1300.2 1552.8 1298.5 1561.2 1297.4C1569.6 1296.3 1578.8 1295.4 1586.4 1294.9C1594 1294.4 1599.4 1294.1 1606.6 1294.4C1613.8 1294.7 1621.3 1295.6 1629.3 1296.6C1637.3 1297.6 1646.1 1299.2 1654.5 1300.4C1662.9 1301.6 1672.1 1302.9 1679.7 1303.5C1687.3 1304.1 1692.8 1304.4 1699.9 1304.2C1707.1 1304 1714.6 1303.2 1722.6 1302.2C1730.6 1301.2 1739.4 1299.4 1747.8 1297.9C1756.2 1296.4 1764.6 1294.8 1773 1293.4C1781.4 1292.1 1789.8 1290.7 1798.2 1289.8C1806.6 1288.9 1815 1288.2 1823.4 1288.3C1831.8 1288.4 1840.3 1289.2 1848.7 1290.3C1857.1 1291.4 1865.5 1293.3 1873.9 1294.9C1882.3 1296.5 1892.2 1298.5 1899.1 1299.7C1906 1300.9 1912.8 1301.8 1915.5 1302.2" fill="none" stroke="#0072bd" stroke-width="10.8" stroke-dasharray="31 28.7" stroke-linejoin="round"/>
<path d="M252.4 1319.3C253.2 1311.4 255.5 1287.7 257.1 1272C258.7 1256.3 260.3 1240.7 261.9 1225C263.5 1209.3 265.4 1189.8 266.6 1178C267.8 1166.2 268.5 1159.2 269.2 1154C269.9 1148.8 270.3 1148.3 271 1146.5C271.7 1144.7 272.6 1143.7 273.5 1143C274.4 1142.3 275.1 1142.3 276.5 1142.2C277.9 1142.1 280.3 1142.2 282 1142.2C283.7 1142.2 286 1142.4 286.8 1142.4C287 1144.1 287.1 1144.1 288 1152.6C288.9 1161.1 290.6 1177.6 292.1 1193.3C293.6 1209 295.4 1229.4 297 1247C298.6 1264.6 300.3 1282.8 301.9 1299.1C303.5 1315.4 305.2 1332.2 306.8 1344.7C308.4 1357.2 310.1 1367.6 311.6 1374C313.1 1380.4 314.5 1381.1 315.7 1382.9C316.9 1384.7 317.8 1385.4 319 1385C320.2 1384.6 321.2 1383.4 323 1380.5C324.8 1377.6 327.1 1372.7 329.5 1367.5C331.9 1362.3 335 1355 337.7 1349.6C340.4 1344.2 343.1 1338.8 345.8 1334.9C348.5 1331 351.3 1328.3 354 1326C356.7 1323.7 359.4 1322.3 362.1 1321.1C364.8 1319.9 367.6 1319.4 370.3 1319C373 1318.6 374.3 1318.4 378.4 1318.6C382.5 1318.8 387.9 1319.6 394.7 1320.3C401.5 1321 411 1321.8 419.1 1322.7C427.2 1323.6 435.8 1324.4 443.5 1325.5C451.2 1326.6 457.4 1327.6 465.2 1329.3C473 1331 482 1333.7 490.4 1335.6C498.8 1337.5 507.2 1339.3 515.6 1340.6C524 1341.9 534.2 1343 540.9 1343.6C547.6 1344.1 549.7 1344.2 556 1343.9C562.3 1343.6 570.7 1342.8 578.7 1341.9C586.7 1341 595.5 1339.6 603.9 1338.6C612.3 1337.6 620.3 1336.7 629.1 1336.1C637.9 1335.5 648.4 1334.9 656.8 1334.8C665.2 1334.7 671.5 1334.9 679.5 1335.6C687.5 1336.3 696.4 1337.5 704.8 1338.8C713.2 1340.1 721.6 1342.1 730 1343.6C738.4 1345.1 747.6 1346.8 755.2 1347.7C762.8 1348.6 768.3 1348.9 775.4 1348.9C782.5 1348.9 790 1348.6 798 1347.7C806 1346.8 814.9 1345.1 823.3 1343.6C831.7 1342.1 840.1 1340 848.5 1338.6C856.9 1337.2 865.7 1335.9 873.7 1335.1C881.7 1334.3 888.8 1333.8 896.4 1333.8C904 1333.8 912.7 1334.5 919.1 1335.1C925.5 1335.7 929 1336.3 935 1337.2C941 1338.1 947.6 1339.6 955.2 1340.6C962.8 1341.6 972.8 1342.6 980.4 1343.1C988 1343.6 993 1343.9 1000.6 1343.6C1008.2 1343.3 1017.4 1342.5 1025.8 1341.4C1034.2 1340.3 1042.6 1338.5 1051 1336.8C1059.4 1335.1 1067.8 1332.7 1076.2 1331C1084.6 1329.3 1093.5 1327.8 1101.5 1326.7C1109.5 1325.6 1117.1 1324.7 1124.2 1324.2C1131.3 1323.7 1136.8 1323.4 1144.3 1323.7C1151.8 1324 1161.1 1325.2 1169.5 1326C1177.9 1326.8 1186.4 1327.8 1194.8 1328.5C1203.2 1329.2 1211.6 1329.9 1220 1330C1228.4 1330.1 1236.8 1330 1245.2 1329.3C1253.6 1328.5 1262 1327.1 1270.4 1325.5C1278.8 1323.9 1287.2 1321.9 1295.6 1319.9C1304 1317.9 1312.4 1315.2 1320.8 1313.4C1329.2 1311.6 1337.6 1310 1346 1309.1C1354.4 1308.2 1362.8 1307.9 1371.2 1307.8C1379.6 1307.7 1388.4 1308.1 1396.5 1308.6C1404.6 1309.1 1412.7 1309.9 1420 1310.7C1427.3 1311.5 1433.5 1312.8 1440.2 1313.5C1446.9 1314.2 1452.7 1315.1 1460.3 1314.8C1467.9 1314.5 1477.2 1313.1 1485.6 1311.8C1494 1310.5 1502.4 1308.4 1510.8 1306.7C1519.2 1305 1527.6 1303.2 1536 1301.7C1544.4 1300.2 1552.8 1298.5 1561.2 1297.4C1569.6 1296.3 1578.8 1295.4 1586.4 1294.9C1594 1294.4 1599.4 1294.1 1606.6 1294.4C1613.8 1294.7 1621.3 1295.6 1629.3 1296.6C1637.3 1297.6 1646.1 1299.2 1654.5 1300.4C1662.9 1301.6 1672.1 1302.9 1679.7 1303.5C1687.3 1304.1 1692.8 1304.4 1699.9 1304.2C1707.1 1304 1714.6 1303.2 1722.6 1302.2C1730.6 1301.2 1739.4 1299.4 1747.8 1297.9C1756.2 1296.4 1764.6 1294.8 1773 1293.4C1781.4 1292.1 1789.8 1290.7 1798.2 1289.8C1806.6 1288.9 1815 1288.2 1823.4 1288.3C1831.8 1288.4 1840.3 1289.2 1848.7 1290.3C1857.1 1291.4 1865.5 1293.3 1873.9 1294.9C1882.3 1296.5 1892.2 1298.5 1899.1 1299.7C1906 1300.9 1912.8 1301.8 1915.5 1302.2" fill="none" stroke="#ff0000" stroke-width="6.3" stroke-linejoin="round"/>
<line x1="252.5" y1="1142" x2="1915.5" y2="1142" stroke="#000" stroke-width="4" stroke-dasharray="38.8 21"/>
<line x1="252.5" y1="1496.4" x2="1915.5" y2="1496.4" stroke="#000" stroke-width="4" stroke-dasharray="38.8 21"/>
<text x="252.5" y="1605.9" text-anchor="middle" font-size="60">0</text>
<text x="585.1" y="1605.9" text-anchor="middle" font-size="60">100</text>
<text x="917.7" y="1605.9" text-anchor="middle" font-size="60">200</text>
<text x="1250.3" y="1605.9" text-anchor="middle" font-size="60">300</text>
<text x="1582.9" y="1605.9" text-anchor="middle" font-size="60">400</text>
<text x="1915.5" y="1605.9" text-anchor="middle" font-size="60">500</text>
<text x="230.4" y="1161.9" text-anchor="end" font-size="60">7620</text>
<text x="230.4" y="1339.1" text-anchor="end" font-size="60">0</text>
<text x="226.7" y="1516.3" text-anchor="end" font-size="60"><tspan x="71" y="1518.1" text-anchor="start" font-size="66" style="stroke-width:0.5px">−</tspan><tspan x="226.7" y="1516.3">7620</tspan></text>
<text transform="translate(60.5 1320.5) rotate(-90)" text-anchor="middle" font-size="66"><tspan font-style="italic">N</tspan>/kN<tspan dx="1.5" dy="-2">·</tspan><tspan dx="0.5" dy="2">m</tspan></text>
<rect x="1429.5" y="1345.3" width="385.1" height="145.9" fill="#fff" stroke="#262626" stroke-width="2.8"/>
<line x1="1443.9" y1="1385.2" x2="1594.2" y2="1385.2" stroke="#0072bd" stroke-width="10.8" stroke-dasharray="31 28.7"/>
<line x1="1443.9" y1="1451.8" x2="1594.2" y2="1451.8" stroke="#ff0000" stroke-width="6.2"/>
<text x="1604.5" y="1405.2" font-size="54" class="lg">Normal</text>
<text x="1604.5" y="1471.1" font-size="54" class="lg">Laguerre</text>
</g>
<text x="1083.2" y="1687.6" text-anchor="middle" font-size="66"><tspan font-style="italic">t</tspan>/s</text>
</svg>
</body>
</html>
